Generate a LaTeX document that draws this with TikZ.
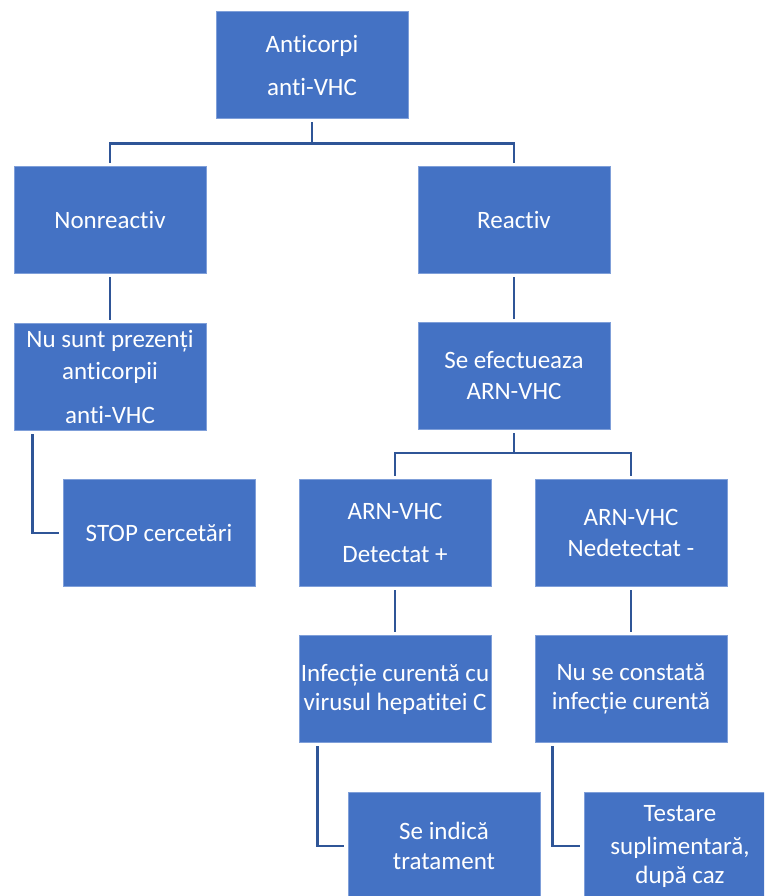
\documentclass[tikz,border=0pt]{standalone}
\usepackage{fontspec}
\setmainfont{Carlito}[Ligatures=NoCommon]
\usepackage{tikz}

\definecolor{boxblue}{HTML}{4472C4}
\definecolor{boxedge}{HTML}{7F9FD9}
\definecolor{linkblue}{HTML}{2F5597}

\tikzset{
  box/.style={fill=boxblue, draw=boxedge, line width=0.8pt, text=white,
    minimum width=192pt, minimum height=107pt, inner sep=0pt, align=center,
    font=\fontsize{25}{29}\selectfont},
  link/.style={draw=linkblue, line width=2.8pt, shorten <=3.5pt, shorten >=3.5pt}
}

\begin{document}
\begin{tikzpicture}[x=1pt, y=-1pt]
  \clip (0,0) rectangle (764,896);

  % nivel 1-3
  \node[box] (top) at (312,65) {Anticorpi\\[14pt]anti-VHC};
  \node[box] (nonreact) at (110,220) {Nonreactiv};
  \node[box] (react) at (514,220) {Reactiv};
  \node[box] (nuSunt) at (110,377) {Nu sunt prezenți\\[3pt]anticorpii\\[15pt]anti-VHC};
  \node[box] (efect) at (514,376) {Se efectueaza\\[2pt]ARN-VHC};

  % nivel 4-6
  \node[box] (stop) at (159,533) {STOP cercetări};
  \node[box] (detect) at (395,533) {ARN-VHC\\[14pt]Detectat +};
  \node[box] (nedetect) at (631,533) {ARN-VHC\\[2pt]Nedetectat -};
  \node[box] (infect) at (395,689) {Infecție curentă cu\\virusul hepatitei C};
  \node[box] (nuInf) at (631,689) {Nu se constată\\infecție curentă};
  \node[box] (trat) at (444,846) {Se indică\\[1pt]tratament};
  \node[box] (testare) at (680,846) {Testare\\[4pt]suplimentară,\\[0pt]după caz};

  \draw[link] (top.south) -- ++(0,25) -| (nonreact.north);
  \draw[link] (top.south) -- ++(0,25) -| (react.north);
  \draw[link] (nonreact.south) -- (nuSunt.north);
  \draw[link] (react.south) -- (efect.north);
  \draw[link] ([xshift=19pt]nuSunt.south west) |- (stop.west);
  \draw[link] (efect.south) -- ++(0,23) -| (detect.north);
  \draw[link] (efect.south) -- ++(0,23) -| (nedetect.north);
  \draw[link] (detect.south) -- (infect.north);
  \draw[link] (nedetect.south) -- (nuInf.north);
  \draw[link] ([xshift=19pt]infect.south west) |- (trat.west);
  \draw[link] ([xshift=18pt]nuInf.south west) |- (testare.west);

\end{tikzpicture}
\end{document}
